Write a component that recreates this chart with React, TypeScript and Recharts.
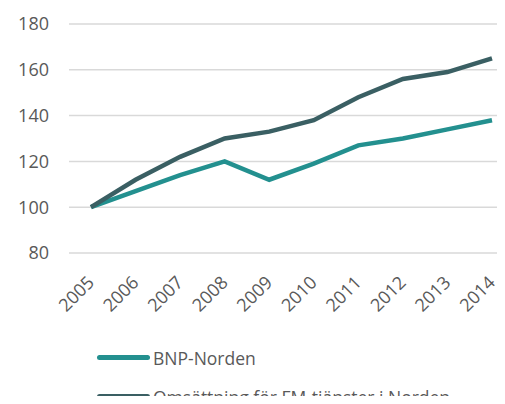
import React from "react";
import { LineChart, Line, XAxis, YAxis, CartesianGrid } from "recharts";

const years = ["2005", "2006", "2007", "2008", "2009", "2010", "2011", "2012", "2013", "2014"];
const bnpNorden = [100, 107, 114, 120, 112, 119, 127, 130, 134, 138];
const fmOmsattning = [100, 112, 122, 130, 133, 138, 148, 156, 159, 165];
const yTicks = [80, 100, 120, 140, 160, 180];

const seriesNames = ["BNP-Norden", "Omsättning för FM-tjänster i Norden"];
const seriesColors = ["#23908f", "#3a5f63"];

const data = years.map((y, i) => ({ year: y, bnp: bnpNorden[i], fm: fmOmsattning[i] }));

const FONT = "'Open Sans', 'Noto Sans', sans-serif";

const XTick = (props: any) => {
  const { x, y, payload } = props;
  return (
    <g transform={`translate(${x},${y})`}>
      <text
        x={0}
        y={0}
        dy={19}
        dx={-13}
        textAnchor="end"
        fill="#595959"
        fontSize={18}
        fontFamily={FONT}
        transform="rotate(-45)"
      >
        {payload.value}
      </text>
    </g>
  );
};

export default function App() {
  return (
    <div
      style={{
        position: "relative",
        width: 497,
        height: 396,
        marginBottom: -8,
        overflow: "hidden",
        fontFamily: FONT,
      }}
    >
      <LineChart
        width={520}
        height={396}
        data={data}
        margin={{ top: 16, right: 0, bottom: 91, left: 0 }}
      >
        <CartesianGrid vertical={false} stroke="#d9d9d9" strokeWidth={1.5} />
        <XAxis
          dataKey="year"
          axisLine={false}
          tickLine={false}
          interval={0}
          height={60}
          padding={{ left: 22, right: 36 }}
          tick={<XTick />}
        />
        <YAxis
          domain={[80, 180]}
          ticks={yTicks}
          axisLine={false}
          tickLine={false}
          width={61}
          tickMargin={14}
          tick={{ fill: "#595959", fontSize: 18, fontFamily: FONT }}
        />
        <Line
          type="linear"
          dataKey="bnp"
          name={seriesNames[0]}
          stroke={seriesColors[0]}
          strokeWidth={4.5}
          dot={false}
          isAnimationActive={false}
        />
        <Line
          type="linear"
          dataKey="fm"
          name={seriesNames[1]}
          stroke={seriesColors[1]}
          strokeWidth={4.5}
          dot={false}
          isAnimationActive={false}
        />
      </LineChart>
      <div style={{ position: "absolute", left: 89, top: 330 }}>
        {seriesNames.map((n, i) => (
          <div key={n} style={{ display: "flex", alignItems: "center", height: 39 }}>
            <div
              style={{
                width: 53,
                height: 5,
                borderRadius: 3,
                background: seriesColors[i],
                marginRight: 3,
              }}
            />
            <span style={{ fontSize: 17.5, color: "#595959", whiteSpace: "nowrap" }}>{n}</span>
          </div>
        ))}
      </div>
    </div>
  );
}
